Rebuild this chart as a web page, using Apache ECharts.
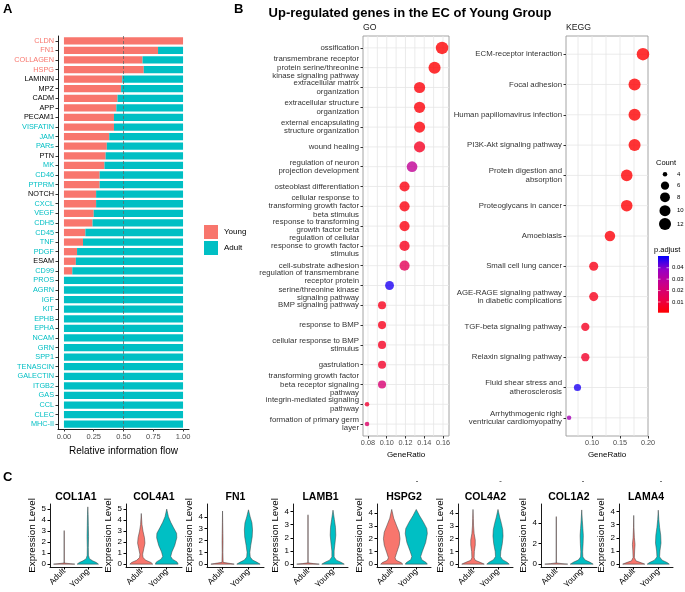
<!DOCTYPE html>
<html><head><meta charset="utf-8">
<script src="https://cdn.jsdelivr.net/npm/echarts@6/dist/echarts.min.js"></script>
<style>html,body{margin:0;padding:0;background:#fff}#c{width:685px;height:592px}</style>
</head><body><div id="c"></div>
<script>
const FONT = "'Liberation Sans', Arial, sans-serif";
const RED = '#F8766D', TEAL = '#00BFC4';

// ---------- Panel A : relative information flow ----------
const pathways = ['CLDN','FN1','COLLAGEN','HSPG','LAMININ','MPZ','CADM','APP','PECAM1','VISFATIN','JAM','PARs','PTN','MK','CD46','PTPRM','NOTCH','CXCL','VEGF','CDH5','CD45','TNF','PDGF','ESAM','CD99','PROS','AGRN','IGF','KIT','EPHB','EPHA','NCAM','GRN','SPP1','TENASCIN','GALECTIN','ITGB2','GAS','CCL','CLEC','MHC-II'];
const youngFlow = [1.00,0.79,0.66,0.67,0.49,0.48,0.45,0.44,0.42,0.42,0.38,0.36,0.35,0.34,0.30,0.30,0.27,0.27,0.25,0.24,0.18,0.16,0.11,0.10,0.07,0,0,0,0,0,0,0,0,0,0,0,0,0,0,0,0];
const adultFlow = [0.00,0.21,0.34,0.33,0.51,0.52,0.55,0.56,0.58,0.58,0.62,0.64,0.65,0.66,0.70,0.70,0.73,0.73,0.75,0.76,0.82,0.84,0.89,0.90,0.93,1,1,1,1,1,1,1,1,1,1,1,1,1,1,1,1];
const pathwayEnriched = ['Young','Young','Young','Young','none','none','none','none','none','Adult','Adult','Adult','none','Adult','Adult','Adult','none','Adult','Adult','Adult','Adult','Adult','Adult','none','Adult','Adult','Adult','Adult','Adult','Adult','Adult','Adult','Adult','Adult','Adult','Adult','Adult','Adult','Adult','Adult','Adult'];
const flowTicks = [0, 0.25, 0.5, 0.75, 1];
const groupNames = ['Young', 'Adult'];

// ---------- Panel B : GO ----------
const goTerms = ['ossification','transmembrane receptor\nprotein serine/threonine\nkinase signaling pathway','extracellular matrix\norganization','extracellular structure\norganization','external encapsulating\nstructure organization','wound healing','regulation of neuron\nprojection development','osteoblast differentiation','cellular response to\ntransforming growth factor\nbeta stimulus','response to transforming\ngrowth factor beta','regulation of cellular\nresponse to growth factor\nstimulus','cell-substrate adhesion','regulation of transmembrane\nreceptor protein\nserine/threonine kinase\nsignaling pathway','BMP signaling pathway','response to BMP','cellular response to BMP\nstimulus','gastrulation','transforming growth factor\nbeta receptor signaling\npathway','integrin-mediated signaling\npathway','formation of primary germ\nlayer'];
const goRatio = [0.159,0.151,0.135,0.135,0.135,0.135,0.127,0.119,0.119,0.119,0.119,0.119,0.103,0.095,0.095,0.095,0.095,0.095,0.079,0.079];
const goCount = [20,19,17,17,17,17,16,15,15,15,15,15,13,12,12,12,12,12,10,10];
const goPadj = [0.001,0.001,0.002,0.002,0.002,0.006,0.028,0.003,0.003,0.003,0.005,0.015,0.048,0.005,0.005,0.006,0.007,0.020,0.008,0.018];
const goTicks = [0.08,0.10,0.12,0.14,0.16];
const goGrid = [0.08,0.09,0.10,0.11,0.12,0.13,0.14,0.15,0.16];

// ---------- Panel B : KEGG ----------
const keggTerms = ['ECM-receptor interaction','Focal adhesion','Human papillomavirus infection','PI3K-Akt signaling pathway','Protein digestion and\nabsorption','Proteoglycans in cancer','Amoebiasis','Small cell lung cancer','AGE-RAGE signaling pathway\nin diabetic complications','TGF-beta signaling pathway','Relaxin signaling pathway','Fluid shear stress and\natherosclerosis','Arrhythmogenic right\nventricular cardiomyopathy'];
const keggRatio = [0.191,0.176,0.176,0.176,0.162,0.162,0.132,0.103,0.103,0.088,0.088,0.074,0.059];
const keggCount = [13,12,12,12,11,11,9,7,7,6,6,5,4];
const keggPadj = [0.0007,0.001,0.001,0.001,0.001,0.001,0.002,0.004,0.005,0.006,0.007,0.048,0.035];
const keggTicks = [0.10,0.15,0.20];
const keggGrid = [0.075,0.10,0.125,0.15,0.175];

const countLegend = [4,6,8,10,12];
const padjLegend = [0.01,0.02,0.03,0.04];
const padjRange = [0.0006, 0.0503];

// ---------- Panel C : violin plots ----------
const genes = ['COL1A1','COL4A1','FN1','LAMB1','HSPG2','COL4A2','COL1A2','LAMA4'];
const vlnGroups = ['Adult','Young'];
const vlnYMax = [5.2,5.2,4.85,4.35,4.5,4.5,5.6,4.35];
const vlnTicks = [[0,1,2,3,4,5],[0,1,2,3,4,5],[0,1,2,3,4],[0,1,2,3,4],[0,1,2,3,4],[0,1,2,3,4],[0,2,4],[0,1,2,3,4]];
// each profile: [expression level, relative half width]
const vlnAdult = [
  [[0,1],[0.04,0.6],[0.1,0.015],[3.0,0.01],[3.05,0]],
  [[0,1],[0.15,0.85],[0.35,0.4],[0.6,0.15],[0.9,0.12],[1.4,0.22],[1.9,0.32],[2.4,0.28],[3.0,0.15],[3.6,0.06],[4.6,0]],
  [[0,1],[0.05,0.7],[0.15,0.05],[1,0.03],[2,0.04],[2.6,0.03],[3.5,0.015],[4.5,0]],
  [[0,1],[0.04,0.5],[0.1,0.01],[3.7,0.01],[3.75,0]],
  [[0,1],[0.12,0.85],[0.3,0.4],[0.5,0.3],[0.9,0.45],[1.5,0.68],[2.0,0.75],[2.5,0.68],[3.0,0.45],[3.6,0.18],[4.3,0]],
  [[0,1],[0.12,0.7],[0.3,0.2],[0.5,0.1],[1.0,0.12],[1.5,0.2],[1.9,0.2],[2.4,0.1],[3.0,0.05],[3.6,0.03],[4.3,0]],
  [[0,1],[0.05,0.5],[0.12,0.01],[4.6,0.01],[4.65,0]],
  [[0,1],[0.1,0.7],[0.25,0.2],[0.5,0.06],[1.0,0.08],[1.5,0.12],[2.0,0.06],[2.8,0.02],[3.7,0]]
];
const vlnYoung = [
  [[0,1],[0.15,0.8],[0.3,0.45],[0.5,0.15],[0.8,0.06],[1.5,0.05],[2.5,0.07],[3.5,0.05],[4.5,0.03],[5.2,0]],
  [[0,1],[0.2,0.9],[0.45,0.5],[0.7,0.35],[1.1,0.45],[1.7,0.7],[2.4,0.88],[2.8,0.86],[3.3,0.6],[3.8,0.35],[4.3,0.15],[5.0,0]],
  [[0,1],[0.15,0.75],[0.35,0.35],[0.6,0.15],[1.0,0.12],[1.6,0.2],[2.3,0.32],[2.9,0.35],[3.5,0.3],[4.0,0.15],[4.6,0]],
  [[0,1],[0.15,0.7],[0.3,0.3],[0.55,0.1],[1.0,0.1],[1.6,0.18],[2.2,0.25],[2.8,0.22],[3.4,0.12],[4.1,0]],
  [[0,1],[0.12,0.9],[0.35,0.5],[0.6,0.4],[1.0,0.55],[1.7,0.85],[2.4,1.0],[2.8,0.95],[3.3,0.65],[3.8,0.3],[4.3,0]],
  [[0,1],[0.15,0.8],[0.35,0.4],[0.6,0.22],[1.0,0.25],[1.6,0.38],[2.2,0.45],[2.7,0.42],[3.2,0.3],[3.7,0.15],[4.3,0]],
  [[0,1],[0.2,0.7],[0.4,0.3],[0.7,0.1],[1.2,0.08],[2.0,0.12],[2.8,0.14],[3.5,0.1],[4.3,0.05],[5.3,0]],
  [[0,1],[0.12,0.8],[0.3,0.35],[0.55,0.12],[1.0,0.15],[1.6,0.25],[2.2,0.22],[2.8,0.12],[3.4,0.05],[4.1,0]]
];

// ---------- helpers ----------
const labelColor = {Young: RED, Adult: TEAL, none: '#000'};
const pStops = [[0,[255,0,0]],[0.25,[232,0,79]],[0.5,[202,0,137]],[0.75,[154,0,195]],[1,[0,0,255]]];
function pColor(p){
  let t = (p - padjRange[0]) / (padjRange[1] - padjRange[0]);
  t = Math.max(0, Math.min(1, t));
  for (let i = 1; i < pStops.length; i++){
    if (t <= pStops[i][0]){
      const a = pStops[i-1], b = pStops[i];
      const f = (t - a[0]) / (b[0] - a[0]);
      const c = a[1].map((v,k)=>Math.round(v + (b[1][k]-v)*f));
      return 'rgb(' + c.join(',') + ')';
    }
  }
  return 'rgb(0,0,255)';
}
function sizeFn(c, cmin, cmax){ return 4.5 + 8 * Math.sqrt((c - cmin) / (cmax - cmin)); }
const goMin = Math.min(...goCount), goMax = Math.max(...goCount);
const kgMin = Math.min(...keggCount), kgMax = Math.max(...keggCount);

const grids = [], xAxes = [], yAxes = [], series = [], graphics = [];

// Panel A
grids.push({left:58, top:36, width:131, height:393});
xAxes.push({type:'value', gridIndex:0, min:-0.05, max:1.05,
  axisLine:{show:true, onZero:false, lineStyle:{color:'#000', width:0.9}},
  axisTick:{show:true, customValues:flowTicks, length:2.5, lineStyle:{color:'#333'}},
  axisLabel:{customValues:flowTicks, formatter:v=>v.toFixed(2), fontSize:7.5, color:'#4D4D4D', margin:4, fontFamily:FONT},
  splitLine:{show:false},
  name:'Relative information flow', nameLocation:'middle', nameGap:14,
  nameTextStyle:{fontSize:10, color:'#000', fontFamily:FONT}});
yAxes.push({type:'category', gridIndex:0, inverse:true, data:pathways,
  axisLine:{show:true, onZero:false, lineStyle:{color:'#000', width:0.9}},
  axisTick:{show:true, alignWithLabel:true, length:2.5, lineStyle:{color:'#333'}},
  axisLabel:{fontSize:7.3, margin:4, fontFamily:FONT, interval:0,
    color:(v,i)=>labelColor[pathwayEnriched[pathways.indexOf(v)]]}});
series.push({type:'bar', name:groupNames[0], xAxisIndex:0, yAxisIndex:0, stack:'flow', data:youngFlow,
  barCategoryGap:'24%', itemStyle:{color:RED}, silent:true});
series.push({type:'bar', name:groupNames[1], xAxisIndex:0, yAxisIndex:0, stack:'flow', data:adultFlow,
  barCategoryGap:'24%', itemStyle:{color:TEAL}, silent:true,
  markLine:{silent:true, symbol:'none', label:{show:false},
    lineStyle:{type:[3,2], color:'#666', width:0.8}, data:[{xAxis:0.5}]}});

// generic gridline builders
function vLines(ai, vals){
  return {type:'custom', xAxisIndex:ai, yAxisIndex:ai, silent:true, z:1, clip:false,
    data: vals.map(v=>[v, 0]),
    renderItem:(params, api)=>{
      const cs = params.coordSys; const x = api.coord([api.value(0), 0])[0];
      return {type:'line', shape:{x1:x, y1:cs.y, x2:x, y2:cs.y+cs.height}, style:{stroke:'#E6E6E6', lineWidth:0.8}};
    }};
}
function hLines(ai, n, xref){
  const d = []; for (let i = 0; i < n; i++) d.push([xref, i]);
  return {type:'custom', xAxisIndex:ai, yAxisIndex:ai, silent:true, z:1, clip:false, data:d,
    renderItem:(params, api)=>{
      const cs = params.coordSys; const y = api.coord([api.value(0), api.value(1)])[1];
      return {type:'line', shape:{x1:cs.x, y1:y, x2:cs.x+cs.width, y2:y}, style:{stroke:'#E6E6E6', lineWidth:0.8}};
    }};
}
function enrichPanel(ai, left, width, xmin, xmax, ticks, gridVals, terms, ratio, count, padj, cmin, cmax){
  grids.push({left:left, top:36, width:width, height:400, show:true, borderColor:'#9A9A9A', borderWidth:0.9, backgroundColor:'#fff'});
  xAxes.push({type:'value', gridIndex:ai, min:xmin, max:xmax, position:'bottom',
    axisLine:{show:false, onZero:false},
    axisTick:{show:true, customValues:ticks, length:2.5, lineStyle:{color:'#333'}},
    axisLabel:{customValues:ticks, formatter:v=>v.toFixed(2), fontSize:7.3, color:'#4D4D4D', margin:3, fontFamily:FONT},
    splitLine:{show:false},
    name:'GeneRatio', nameLocation:'middle', nameGap:12, nameTextStyle:{fontSize:8, color:'#000', fontFamily:FONT}});
  const idx = terms.map((_, i)=>i);
  yAxes.push({type:'value', gridIndex:ai, inverse:true, min:-0.6, max:terms.length-0.4, position:'left',
    axisLine:{show:false, onZero:false},
    axisTick:{show:true, customValues:idx, length:2.5, lineStyle:{color:'#333'}},
    axisLabel:{customValues:idx, formatter:v=>terms[Math.round(v)], fontSize:7.8, lineHeight:8.4, color:'#333', margin:4, fontFamily:FONT},
    splitLine:{show:false}});
  series.push(vLines(ai, gridVals));
  series.push(hLines(ai, terms.length, xmin));
  series.push({type:'scatter', xAxisIndex:ai, yAxisIndex:ai, z:3, silent:true, clip:false,
    data: ratio.map((r,i)=>({value:[r, i, count[i], padj[i]], itemStyle:{color:pColor(padj[i])}})),
    symbolSize: d=>sizeFn(d[2], cmin, cmax)});
}
enrichPanel(1, 363, 86, 0.0747, 0.1664, goTicks, goGrid, goTerms, goRatio, goCount, goPadj, goMin, goMax);
enrichPanel(2, 566, 82, 0.0535, 0.2, keggTicks, keggGrid, keggTerms, keggRatio, keggCount, keggPadj, kgMin, kgMax);

// Panel C
const vlnLeft = [50,126,207,293,377,458,541,619];
const vlnW = [52,56,57,55,54,55,56,54];
genes.forEach((g, k)=>{
  const ai = 3 + k;
  const M = vlnYMax[k];
  grids.push({left:vlnLeft[k], top:504, width:vlnW[k], height:63});
  xAxes.push({type:'value', gridIndex:ai, min:-0.6, max:1.6, position:'bottom',
    axisLine:{show:true, onZero:false, lineStyle:{color:'#000', width:0.9}},
    axisTick:{show:true, customValues:[0,1], length:2.5, lineStyle:{color:'#000'}},
    axisLabel:{customValues:[0,1], formatter:v=>vlnGroups[Math.round(v)], rotate:45, fontSize:8.3, color:'#000', margin:3, fontFamily:FONT},
    splitLine:{show:false}});
  yAxes.push({type:'value', gridIndex:ai, min:-0.05*M, max:1.05*M, position:'left',
    axisLine:{show:true, onZero:false, lineStyle:{color:'#000', width:0.9}},
    axisTick:{show:true, customValues:vlnTicks[k], length:2.5, lineStyle:{color:'#000'}},
    axisLabel:{customValues:vlnTicks[k], fontSize:8, color:'#000', margin:4, fontFamily:FONT},
    splitLine:{show:false},
    name:'Expression Level', nameLocation:'middle', nameRotate:90, nameGap:11,
    nameTextStyle:{fontSize:9.8, color:'#000', fontFamily:FONT}});
  const profs = [vlnAdult[k], vlnYoung[k]];
  series.push({type:'custom', xAxisIndex:ai, yAxisIndex:ai, silent:true, clip:false,
    data:[[0, 0],[1, 0]],
    renderItem:(params, api)=>{
      const gi = params.dataIndex;
      const prof = profs[gi];
      const pts = [];
      prof.forEach(p=>pts.push(api.coord([gi + 0.45*p[1], p[0]])));
      for (let i = prof.length-1; i >= 0; i--) pts.push(api.coord([gi - 0.45*prof[i][1], prof[i][0]]));
      return {type:'polygon', shape:{points:pts}, style:{fill: gi===0 ? RED : TEAL, stroke:'#3a3a3a', lineWidth:0.5}};
    }});
  graphics.push({type:'text', x: vlnLeft[k] + vlnW[k]/2, y: 497, style:{text:g, fontSize:10.5, fontWeight:'bold', fill:'#000', fontFamily:FONT, textAlign:'center', textVerticalAlign:'middle'}});
});
// tiny stray dashes above some violin titles in the original figure
[417, 500.5, 583, 661].forEach(x=>{
  graphics.push({type:'line', shape:{x1:x-1, y1:481.5, x2:x+1, y2:481.5}, style:{stroke:'#555', lineWidth:0.8}});
});

// Panel labels and titles
graphics.push({type:'text', x:3, y:9, style:{text:'A', fontSize:13, fontWeight:'bold', fill:'#000', fontFamily:FONT, textVerticalAlign:'middle'}});
graphics.push({type:'text', x:234, y:9, style:{text:'B', fontSize:13, fontWeight:'bold', fill:'#000', fontFamily:FONT, textVerticalAlign:'middle'}});
graphics.push({type:'text', x:3, y:477, style:{text:'C', fontSize:13, fontWeight:'bold', fill:'#000', fontFamily:FONT, textVerticalAlign:'middle'}});
graphics.push({type:'text', x:410, y:13.5, style:{text:'Up-regulated genes in the EC of Young Group', fontSize:13, fontWeight:'bold', fill:'#000', fontFamily:FONT, textAlign:'center', textVerticalAlign:'middle'}});
graphics.push({type:'text', x:363, y:28, style:{text:'GO', fontSize:8.7, fill:'#1A1A1A', fontFamily:FONT, textVerticalAlign:'middle'}});
graphics.push({type:'text', x:566, y:28, style:{text:'KEGG', fontSize:8.7, fill:'#1A1A1A', fontFamily:FONT, textVerticalAlign:'middle'}});

// Panel A legend
[RED, TEAL].forEach((c, i)=>{
  graphics.push({type:'rect', shape:{x:204, y:225 + i*16, width:14, height:14}, style:{fill:c}});
  graphics.push({type:'text', x:224, y:232 + i*16, style:{text:groupNames[i], fontSize:8, fill:'#000', fontFamily:FONT, textVerticalAlign:'middle'}});
});

// Count legend
graphics.push({type:'text', x:656, y:163, style:{text:'Count', fontSize:7.5, fill:'#000', fontFamily:FONT, textVerticalAlign:'middle'}});
const countY = [174.3, 185.7, 197.3, 210.7, 224];
countLegend.forEach((c, i)=>{
  graphics.push({type:'circle', shape:{cx:665, cy:countY[i], r:sizeFn(c, kgMin, kgMax)/2}, style:{fill:'#000'}});
  graphics.push({type:'text', x:677, y:countY[i], style:{text:String(c), fontSize:6, fill:'#000', fontFamily:FONT, textVerticalAlign:'middle'}});
});

// p.adjust legend
graphics.push({type:'text', x:654, y:249.5, style:{text:'p.adjust', fontSize:7.5, fill:'#000', fontFamily:FONT, textVerticalAlign:'middle'}});
const cbTop = 256, cbH = 56.7;
graphics.push({type:'rect', shape:{x:658, y:cbTop, width:11, height:cbH}, style:{fill:{type:'linear', x:0, y:0, x2:0, y2:1,
  colorStops: pStops.slice().reverse().map(s=>({offset:1-s[0], color:'rgb('+s[1].join(',')+')'}))}}});
padjLegend.forEach(v=>{
  const y = cbTop + cbH - (v - padjRange[0]) / (padjRange[1] - padjRange[0]) * cbH;
  graphics.push({type:'line', shape:{x1:658, y1:y, x2:660.5, y2:y}, style:{stroke:'#fff', lineWidth:0.6}});
  graphics.push({type:'line', shape:{x1:666.5, y1:y, x2:669, y2:y}, style:{stroke:'#fff', lineWidth:0.6}});
  graphics.push({type:'text', x:672, y:y, style:{text:v.toFixed(2), fontSize:6, fill:'#000', fontFamily:FONT, textVerticalAlign:'middle'}});
});

const chart = echarts.init(document.getElementById('c'), null, {renderer:'canvas'});
chart.setOption({
  animation:false,
  backgroundColor:'#fff',
  textStyle:{fontFamily:FONT},
  grid:grids, xAxis:xAxes, yAxis:yAxes, series:series,
  graphic:{elements:graphics}
});
</script></body></html>
